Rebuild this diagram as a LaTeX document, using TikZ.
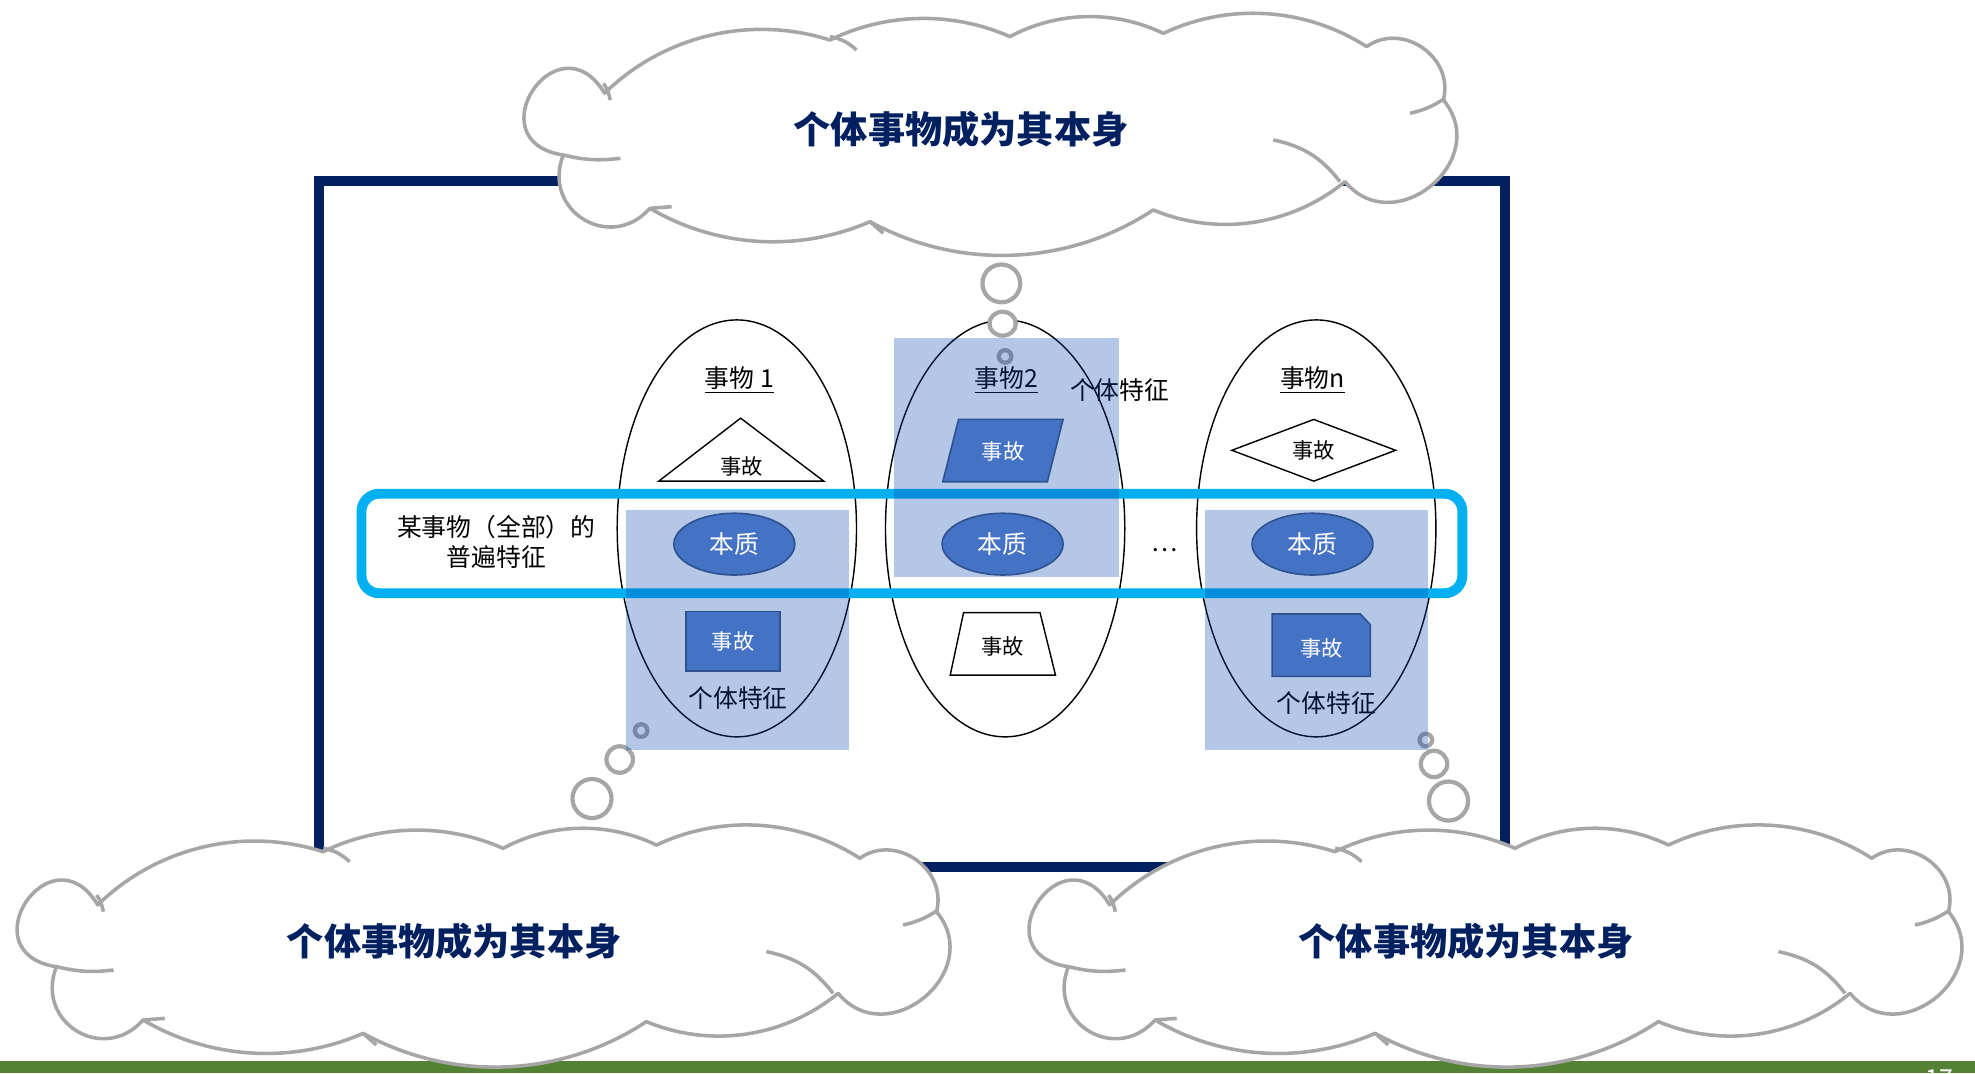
\documentclass[tikz,border=0pt]{standalone}
\usepackage{fontspec}
\setmainfont{Noto Sans CJK SC}
\definecolor{navy}{HTML}{002060}
\definecolor{skyline}{HTML}{00B0F0}
\definecolor{tint}{HTML}{0544AF}
\definecolor{accblue}{HTML}{4472C4}
\definecolor{accline}{HTML}{2F528F}
\definecolor{cloudgray}{HTML}{A6A6A6}
\definecolor{band}{HTML}{548235}
% outline of one thought cloud, drawn at the top position
\newcommand\cloudpath{(480,74) to[bend left=31,looseness=0.92] (658.9,31.8)
 to[bend left=25,looseness=0.89] (801.8,29.1)
 to[bend left=27,looseness=0.9] (923.6,26.5)
 to[bend left=29,looseness=0.91] (1085,37)
 to[bend left=70,looseness=1.2] (1145.9,79.4)
 to[bend left=90,looseness=1.55] (1067.8,144.2)
 to[bend left=31,looseness=0.92] (915.6,166.7)
 to[bend left=31,looseness=0.92] (690.7,176)
 to[bend left=27,looseness=0.9] (516,165.4)
 to[bend left=80,looseness=1.5] (447.2,123.1)
 to[bend left=115,looseness=3.1] (480,74) -- cycle}
\newcommand\cloudhooks{%
 \draw[cloudline] (1010.9,111.1) to[bend left=20] (1063.8,144.2);
 \draw[cloudline] (1119.4,90) to[bend right=10] (1147.2,78);
 \draw[cloudline] (447,123) to[bend right=10] (492.6,125.7);
 \draw[cloudline] (479.2,66.2) to[bend left=10] (484.5,79.4);
 \draw[cloudline] (659,29) to[bend left=15] (680,39.7);
 \draw[cloudline] (516,165.4) -- (533.2,164.1);
 \draw[cloudline] (690.7,176) -- (701.2,185.2);}

\begin{document}
\begin{tikzpicture}[x=0.025cm,y=-0.025cm,
  thing/.style={draw=black,line width=0.8pt},
  lbl/.style={font=\fontsize{14}{17}\selectfont,inner sep=0pt},
  small/.style={font=\fontsize{12}{14}\selectfont,inner sep=0pt},
  acc/.style={fill=accblue,draw=accline,line width=0.9pt},
  bubble/.style={draw=cloudgray,line width=2.4pt,fill=white},
  cloudline/.style={draw=cloudgray,line width=2pt,line join=round},
  title/.style={font=\fontsize{21}{24}\selectfont\bfseries,text=navy}]
\useasboundingbox (0,0) rectangle (1568,852);
\draw[navy,line width=5.6pt] (253,144) rectangle (1195,688);
	% the three things
	\draw[thing] (585,419.5) ellipse [x radius=95, y radius=165.5];
	\draw[thing] (798,419.5) ellipse [x radius=95, y radius=165.5];
	\draw[thing] (1045,419.5) ellipse [x radius=95, y radius=165.5];
	% thought bubbles
	\draw[bubble] (795,225) circle(15);
	\draw[bubble] (796,257) ellipse [x radius=10.5, y radius=9.5];
	\draw[bubble] (798,283) circle(5);
	\draw[bubble] (509,580) circle(5);
	\draw[bubble] (492,603) circle(10.5);
	\draw[bubble] (470,634) circle(15.5);
	\draw[bubble] (1132,587.5) circle(5);
	\draw[bubble] (1138.5,606.5) circle(10.5);
	\draw[bubble] (1150,636) circle(15.5);
	% labels
	\node[lbl] (thing1) at (587,302) {\underline{事物 1}};
	\node[lbl] (thing2) at (799,302) {\underline{事物2}};
	\node[lbl] (thingn) at (1042,302) {\underline{事物n}};
	\node[lbl] (indiv2) at (889,310) {个体特征};
	\node[lbl] (indiv1) at (586,554) {个体特征};
	\node[lbl] (indivn) at (1053,558) {个体特征};
	\node[lbl,align=center] (univ) at (394,430) {某事物（全部）的\\普遍特征};
	\node[lbl] (dots) at (925,437) {\ldots};
	% white accidents
	\draw[thing] (523,382) -- (588,332) -- (654,382) -- cycle;
	\node[small] (acc1a) at (589,370) {事故};
	\draw[thing] (978,357.5) -- (1043,333) -- (1108,357.5) -- (1043,382) -- cycle;
	\node[small] (accna) at (1043,357.5) {事故};
	\draw[thing] (765,486.4) -- (825.7,486.4) -- (838,536) -- (754.4,536) -- cycle;
	\node[small] (acc2b) at (796,513) {事故};
	% common features band
	\draw[skyline,line width=5.6pt,rounded corners=10pt] (287,392) rectangle (1161,471);
	\fill[tint,opacity=0.3] (497,405) rectangle (674,595.5);
	\fill[tint,opacity=0.3] (710,268) rectangle (888,458);
	\fill[tint,opacity=0.3] (956.6,405) rectangle (1134,595.5);
	% blue accidents and essences
	\draw[acc] (761,333) -- (844,333) -- (831.5,382.5) -- (748.5,382.5) -- cycle;
	\node[small,text=white] (acc2a) at (796.5,358.5) {事故};
	\draw[acc] (544.6,485.6) rectangle (619.3,532.5);
	\node[small,text=white] (acc1b) at (582,509) {事故};
	\draw[acc] (1010,487.5) -- (1080,487.5) -- (1088,496) -- (1088,537) -- (1010,537) -- cycle;
	\node[small,text=white] (accnb) at (1049,514.5) {事故};
	\draw[acc] (583,432) ellipse [x radius=48, y radius=24.5];
	\node[lbl,text=white] (ess1) at (583,432) {本质};
	\draw[acc] (796,432) ellipse [x radius=48, y radius=24.5];
	\node[lbl,text=white] (ess2) at (796,432) {本质};
	\draw[acc] (1042,432) ellipse [x radius=48, y radius=24.5];
	\node[lbl,text=white] (essn) at (1042,432) {本质};
	% footer
	\fill[band] (0,842.5) rectangle (1568,852);
	\node[font=\fontsize{14}{16}\selectfont,text=white,anchor=north] (pagenum) at (1540,844) {17};
	% clouds
	\filldraw[cloudline,fill=white] \cloudpath;
	\cloudhooks
	\node[title] (titletop) at (763,103) {个体事物成为其本身};
	\begin{scope}[shift={(-402.4,644.4)}]
	\filldraw[cloudline,fill=white] \cloudpath;
	\cloudhooks
	\node[title] (titleleft) at (763,103) {个体事物成为其本身};
	\end{scope}
	\begin{scope}[shift={(401,644.4)}]
	\filldraw[cloudline,fill=white] \cloudpath;
	\cloudhooks
	\node[title] (titleright) at (763,103) {个体事物成为其本身};
	\end{scope}
\end{tikzpicture}
\end{document}
